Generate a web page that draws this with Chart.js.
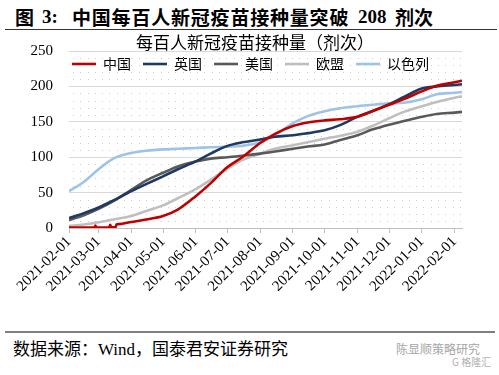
<!DOCTYPE html>
<html><head><meta charset="utf-8">
<script src="https://cdn.jsdelivr.net/npm/chart.js@4/dist/chart.umd.min.js"></script>
<style>
html,body{margin:0;padding:0;background:#fff;width:499px;height:375px;overflow:hidden;position:relative;font-family:"Noto Sans CJK SC",sans-serif;color:#000}
.t{position:absolute;top:6px;font-size:19px;font-weight:700;line-height:22px;white-space:nowrap}
.serif{font-family:"Liberation Serif","Times New Roman",serif}
#hr1{position:absolute;left:5px;top:29px;width:492px;height:0;border-top:1.5px solid #333}
#hr2{position:absolute;left:5px;top:331px;width:490px;height:0;border-top:2px solid #7f7f7f}
#src{position:absolute;left:13px;top:338px;font-size:17px;line-height:20px;white-space:nowrap}
#wm{position:absolute;left:396px;top:342px;font-size:12px;line-height:14px;color:#a6a6a6;white-space:nowrap}
#logo{position:absolute;left:452px;top:356px;font-size:10px;line-height:12px;color:#b0b0b0;white-space:nowrap}
#cv{position:absolute;left:0;top:34px}
</style></head>
<body>
<div class="t" style="left:15px">图</div>
<div class="t serif" style="left:42px">3:</div>
<div class="t" style="left:72px;letter-spacing:0.8px">中国每百人新冠疫苗接种量突破</div>
<div class="t serif" style="left:358px">208</div>
<div class="t" style="left:395px">剂次</div>
<div id="hr1"></div>
<canvas id="cv" width="499" height="296"></canvas>
<div id="hr2"></div>
<div id="src">数据来源：<span class="serif">Wind</span>，国泰君安证券研究</div>
<div id="wm">陈显顺策略研究</div>
<div id="logo">G 格隆汇</div>
<script>
// ---- data ----
const chartTitle = '每百人新冠疫苗接种量（剂次）';
const seriesNames = ['中国', '英国', '美国', '欧盟', '以色列'];
const tickLabels = ['2021-02-01','2021-03-01','2021-04-01','2021-05-01','2021-06-01','2021-07-01','2021-08-01','2021-09-01','2021-10-01','2021-11-01','2021-12-01','2022-01-01','2022-02-01'];
const dates = ['2021-02-01','2021-02-15','2021-03-01','2021-03-15','2021-04-01','2021-04-15','2021-05-01','2021-05-15','2021-06-01','2021-06-15','2021-07-01','2021-07-15','2021-08-01','2021-08-15','2021-09-01','2021-09-15','2021-10-01','2021-10-15','2021-11-01','2021-11-15','2021-12-01','2021-12-15','2022-01-01','2022-01-15','2022-02-01','2022-02-08'];
const ukValues     = [14,21,29,39,52,62,73,83,94,105,116,121,125,129,131,134,138,145,157,165,175,185,197,200,202,203];
const usValues     = [11,18,27,38,54,67,78,87,94,98,100,102,105,108,112,115,118,124,131,139,146,151,157,161,163,164];
const euValues     = [3,5,8,12,17,24,32,42,55,68,84,96,105,112,117,121,126,130,136,144,155,164,172,178,184,186];
const israelValues = [52,65,83,98,106,109,111,112,113,114,115,116,121,131,148,158,165,169,172,174,176,177,182,189,191,192];
const chinaDates  = ['2021-02-01','2021-02-25','2021-02-26','2021-02-27','2021-03-11','2021-03-12','2021-03-13','2021-03-17','2021-03-18','2021-03-20','2021-04-01','2021-04-15','2021-05-01','2021-05-15','2021-06-01','2021-06-15','2021-07-01','2021-07-15','2021-08-01','2021-08-15','2021-09-01','2021-09-15','2021-10-01','2021-10-15','2021-11-01','2021-11-15','2021-12-01','2021-12-15','2022-01-01','2022-01-15','2022-02-01','2022-02-08'];
const chinaValues = [0.5,0.5,3.5,0.5,0.5,4.5,1,1,5,5.5,8.5,12,17,26,45,63,86,100,120,133,144,149,152,153.5,157,165,174,182,193,201,206,208];
const colors = ['#C00000','#203864','#595959','#BFBFBF','#9DC3E6'];

// ---- helpers ----
const base = Date.parse('2021-02-01T00:00:00Z');
const day = d => Math.round((Date.parse(d + 'T00:00:00Z') - base) / 864e5);
const pts = (ds, vs) => ds.map((d, i) => ({x: day(d), y: vs[i]}));
const tickDays = tickLabels.map(day);
const labelFor = {}; tickDays.forEach((v, i) => labelFor[v] = tickLabels[i]);

const seriesData = [pts(chinaDates, chinaValues), pts(dates, ukValues), pts(dates, usValues), pts(dates, euValues), pts(dates, israelValues)];

const dotPlugin = {
  id: 'dots',
  beforeDatasetsDraw(chart) {
    const {ctx, chartArea: a} = chart; const ys = chart.scales.y;
    ctx.save(); ctx.fillStyle = '#cdcdcd';
    for (let v = 10; v < 250; v += 10) {
      if (v % 50 === 0) continue;
      const py = Math.round(ys.getPixelForValue(v));
      for (let px = a.left + 4; px < a.right; px += 7.3) ctx.fillRect(Math.round(px), py, 1, 1);
    }
    ctx.restore();
  }
};
// legend overlays the plot area (takes no layout space) and title is nudged to match
const overlayPos = {
  id: 'overlayPos',
  afterInit(chart) {
    const lg = chart.legend;
    if (lg && !lg._zeroFit) {
      const f = lg.fit.bind(lg);
      lg.fit = function () { f(); this.height = 0; };
      lg._zeroFit = true;
    }
  },
  afterLayout(chart) {
    const lg = chart.legend;
    if (lg) {
      lg.left = 60; lg.right = 499; lg.width = 439;
      lg.top = 11; lg.bottom = 51; lg.height = 40;
    }
    const tt = chart.titleBlock;
    if (tt) {
      const cx = (tt.left + tt.right) / 2, dx = 255 - cx;
      tt.left += dx; tt.right += dx;
    }
  }
};

new Chart(document.getElementById('cv'), {
  type: 'line',
  data: {
    datasets: seriesNames.map((n, i) => ({
      label: n, data: seriesData[i], borderColor: colors[i], backgroundColor: colors[i],
      borderWidth: 2.6, pointRadius: 0, pointHoverRadius: 0, pointStyle: 'line',
      cubicInterpolationMode: 'monotone', fill: false
    }))
  },
  options: {
    responsive: false, animation: false, devicePixelRatio: 1,
    layout: {padding: {left: 0, right: 37, top: 0, bottom: 0}},
    plugins: {
      title: {display: true, text: chartTitle, color: '#000', padding: 0,
        font: {family: '"Noto Sans CJK SC"', size: 17, weight: 'normal', lineHeight: 1}},
      legend: {display: true, position: 'top', align: 'start',
        labels: {usePointStyle: true, pointStyleWidth: 24, boxHeight: 14, padding: 12, color: '#000',
          font: {family: '"Noto Sans CJK SC"', size: 14}}},
      tooltip: {enabled: false}
    },
    scales: {
      x: {type: 'linear', min: 0, max: 372,
        afterBuildTicks: s => { s.ticks = tickDays.map(v => ({value: v})); },
        afterFit: s => { s.height = 102; },
        ticks: {autoSkip: false, minRotation: 45, maxRotation: 45, padding: 0, color: '#000',
          font: {family: '"Liberation Serif"', size: 15}, callback: v => labelFor[v] || ''},
        grid: {drawOnChartArea: false, drawTicks: true, tickLength: 5, color: '#BFBFBF'},
        border: {display: true, color: '#BFBFBF', width: 1}
      },
      y: {min: 0, max: 250,
        afterFit: s => { s.width = 69; s.paddingTop = 0; s.paddingBottom = 0; },
        ticks: {stepSize: 50, padding: 16, color: '#000', font: {family: '"Liberation Serif"', size: 15}},
        grid: {color: '#D9D9D9', drawTicks: false},
        border: {display: false}
      }
    }
  },
  plugins: [dotPlugin, overlayPos]
});
</script>
</body></html>
